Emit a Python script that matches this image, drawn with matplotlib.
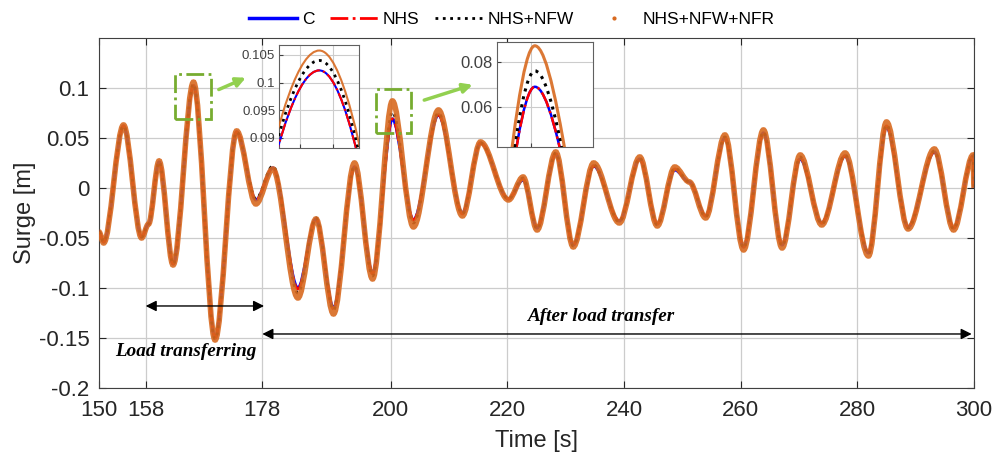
import numpy as np
import matplotlib.pyplot as plt
from matplotlib.path import Path
from matplotlib.patches import PathPatch, Rectangle
from matplotlib.lines import Line2D

plt.rcParams['font.family'] = ['Liberation Sans', 'DejaVu Sans']

# turning points of the surge signal (time in s)
time = [150.0, 150.8, 154.2, 157.3, 158.5, 160.3, 162.7, 166.2, 169.9, 173.6,
        176.9, 179.8, 184.1, 187.2, 190.2, 193.8, 196.9, 200.3, 203.9, 208.2,
        212.3, 215.4, 220.2, 222.7, 225.1, 228.3, 231.3, 234.8, 239.2, 242.7,
        245.7, 248.7, 251.2, 254.0, 257.3, 260.5, 263.9, 267.1, 270.2, 273.9,
        277.9, 281.9, 285.0, 288.7, 293.2, 296.5, 299.85, 300.0]

surge_c = [-0.044, -0.054, 0.062, -0.049, -0.036, 0.026, -0.076, 0.1022, -0.150, 0.056,
           -0.012, 0.020, -0.100, -0.031, -0.120, 0.021, -0.085, 0.069, -0.032, 0.073,
           -0.025, 0.045, -0.011, 0.008, -0.040, 0.034, -0.057, 0.022, -0.033, 0.029,
           -0.036, 0.018, 0.006, -0.028, 0.050, -0.059, 0.055, -0.057, 0.029, -0.035,
           0.032, -0.065, 0.061, -0.039, 0.036, -0.040, 0.032, 0.0]

surge_nhs = [-0.044, -0.054, 0.062, -0.049, -0.036, 0.026, -0.076, 0.1022, -0.150, 0.056,
             -0.012, 0.020, -0.101, -0.031, -0.121, 0.021, -0.086, 0.069, -0.032, 0.073,
             -0.026, 0.045, -0.011, 0.009, -0.040, 0.034, -0.057, 0.022, -0.033, 0.029,
             -0.036, 0.019, 0.006, -0.028, 0.050, -0.059, 0.055, -0.057, 0.030, -0.035,
             0.032, -0.065, 0.062, -0.039, 0.036, -0.040, 0.032, 0.0]

surge_nfw = [-0.044, -0.054, 0.062, -0.049, -0.036, 0.026, -0.076, 0.1040, -0.151, 0.056,
             -0.011, 0.022, -0.105, -0.030, -0.122, 0.022, -0.088, 0.076, -0.035, 0.075,
             -0.026, 0.045, -0.011, 0.010, -0.041, 0.035, -0.058, 0.023, -0.034, 0.030,
             -0.037, 0.020, 0.006, -0.029, 0.051, -0.060, 0.056, -0.058, 0.031, -0.036,
             0.033, -0.066, 0.063, -0.040, 0.037, -0.041, 0.033, 0.0]

surge_nfr = [-0.044, -0.055, 0.063, -0.050, -0.036, 0.027, -0.077, 0.1058, -0.152, 0.057,
             -0.016, 0.019, -0.110, -0.031, -0.126, 0.025, -0.091, 0.087, -0.039, 0.078,
             -0.028, 0.046, -0.012, 0.011, -0.042, 0.036, -0.059, 0.025, -0.035, 0.031,
             -0.038, 0.021, 0.006, -0.030, 0.053, -0.062, 0.058, -0.060, 0.033, -0.037,
             0.035, -0.068, 0.066, -0.041, 0.039, -0.042, 0.033, 0.0]

labels = ['C', 'NHS', 'NHS+NFW', 'NHS+NFW+NFR']
xticks = [150, 158, 178, 200, 220, 240, 260, 280, 300]
yticks = [-0.2, -0.15, -0.1, -0.05, 0, 0.05, 0.1]
ytick_labels = ['-0.2', '-0.15', '-0.1', '-0.05', '0', '0.05', '0.1']

orange = '#D8691F'


def smooth_path(t, v):
    # cubic segments with flat tangents at every turning point
    verts = [(t[0], v[0])]
    codes = [Path.MOVETO]
    for i in range(1, len(t)):
        d = (t[i] - t[i - 1]) / 3
        verts += [(t[i - 1] + d, v[i - 1]), (t[i] - d, v[i]), (t[i], v[i])]
        codes += [Path.CURVE4] * 3
    return Path(verts, codes)


def draw_series(ax, widths):
    styles = [dict(edgecolor='b', linestyle='-'),
              dict(edgecolor='r', linestyle='-.'),
              dict(edgecolor='k', linestyle=':'),
              dict(edgecolor=orange, linestyle='-', alpha=0.9)]
    series = [surge_c, surge_nhs, surge_nfw, surge_nfr]
    for k, (vals, st) in enumerate(zip(series, styles)):
        ax.add_patch(PathPatch(smooth_path(time, vals), fill=False, linewidth=widths[k],
                               zorder=3 + k, **st))


fig = plt.figure(figsize=(9.94, 4.57), dpi=100)
ax = fig.add_axes([0.0996, 0.151, 0.8803, 0.766])
draw_series(ax, [2.2, 2.0, 2.0, 4.0])

ax.set_xlim(150, 300)
ax.set_ylim(-0.2, 0.15)
ax.set_xticks(xticks)
ax.set_yticks(yticks)
ax.set_yticklabels(ytick_labels)
ax.tick_params(direction='in', top=True, right=True, labelsize=16, colors='#262626',
               length=5, pad=7)
ax.tick_params(axis='x', pad=9)
ax.grid(True, color='#cccccc', linewidth=0.9)
ax.set_axisbelow(True)
for s in ax.spines.values():
    s.set_color('#404040')
ax.set_xlabel('Time [s]', fontsize=17, color='#262626', labelpad=6)
ax.set_ylabel('Surge [m]', fontsize=17, color='#262626', labelpad=2)

# green zoom boxes and arrows
ax.add_patch(Rectangle((163.1, 0.0687), 6.1, 0.045, fill=False, ec='#77AC30',
                       ls='-.', lw=2, zorder=8))
ax.add_patch(Rectangle((197.4, 0.0547), 6.0, 0.044, fill=False, ec='#77AC30',
                       ls='-.', lw=2, zorder=8))
ax.annotate('', xy=(175.6, 0.1113), xytext=(170.1, 0.0973),
            arrowprops=dict(arrowstyle='-|>', color='#92D050', lw=2.5, mutation_scale=14))
ax.annotate('', xy=(214.5, 0.104), xytext=(205.3, 0.087),
            arrowprops=dict(arrowstyle='-|>', color='#92D050', lw=2.5, mutation_scale=14))

# phase arrows
ax.annotate('', xy=(158, -0.118), xytext=(178.3, -0.118),
            arrowprops=dict(arrowstyle='<|-|>', color='k', lw=1, mutation_scale=16,
                            shrinkA=0, shrinkB=0), zorder=9)
ax.annotate('', xy=(178, -0.146), xytext=(299.6, -0.146),
            arrowprops=dict(arrowstyle='<|-|>', color='k', lw=1, mutation_scale=16,
                            shrinkA=0, shrinkB=0), zorder=9)
txt = dict(family=['Liberation Serif', 'DejaVu Serif'], style='italic', weight='bold',
           fontsize=13.8, ha='center', va='center', zorder=9)
ax.text(164.8, -0.164, 'Load transferring', **txt)
ax.text(236.1, -0.129, 'After load transfer', **txt)

handles = [Line2D([], [], color='b', lw=2.5),
           Line2D([], [], color='r', lw=2, ls='-.'),
           Line2D([], [], color='k', lw=2, ls=':'),
           Line2D([], [], color=orange, ls='none', marker='.', markersize=4)]
fig.legend(handles, labels, loc='center', bbox_to_anchor=(0.515, 0.958), ncol=4,
           frameon=False, fontsize=12.5, handlelength=2.8, handletextpad=0.25,
           columnspacing=0.9, numpoints=1)

# inset 1
ins1 = fig.add_axes([0.281, 0.6768, 0.0805, 0.2247])
draw_series(ins1, [1.5, 1.5, 2.0, 1.5])
ins1.set_xlim(165.62, 166.78)
ins1.set_ylim(0.0882, 0.1068)
ins1.set_xticks([165.92, 166.4])
ins1.set_xticklabels([])
ins1.set_yticks([0.09, 0.095, 0.1, 0.105])
ins1.set_yticklabels(['0.09', '0.095', '0.1', '0.105'])
ins1.tick_params(direction='in', labelsize=9.5, colors='#404040', length=3, pad=3)
ins1.grid(True, color='#cccccc', linewidth=0.8)
ins1.set_axisbelow(True)
for s in ins1.spines.values():
    s.set_color('#606060')

# inset 2
ins2 = fig.add_axes([0.4997, 0.679, 0.0966, 0.2298])
draw_series(ins2, [1.8, 1.8, 2.2, 2.2])
ins2.set_xlim(198.44, 203.12)
ins2.set_ylim(0.0427, 0.0888)
ins2.set_xticks([200.1])
ins2.set_xticklabels([])
ins2.set_yticks([0.06, 0.08])
ins2.set_yticklabels(['0.06', '0.08'])
ins2.tick_params(direction='in', labelsize=12, colors='#404040', length=3, pad=3)
ins2.grid(True, color='#cccccc', linewidth=0.8)
ins2.set_axisbelow(True)
for s in ins2.spines.values():
    s.set_color('#606060')

fig.savefig('out.png', dpi=100)
